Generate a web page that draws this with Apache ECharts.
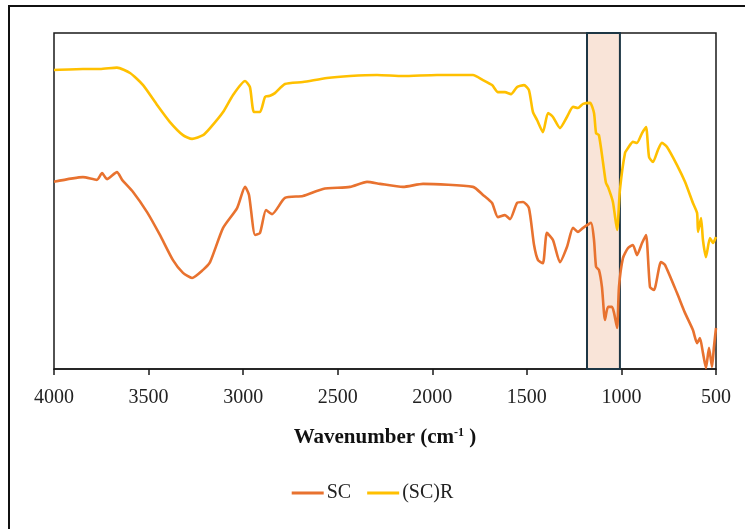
<!DOCTYPE html>
<html>
<head>
<meta charset="utf-8">
<script src="https://cdn.jsdelivr.net/npm/echarts@6/dist/echarts.min.js"></script>
<style>
  html, body { margin: 0; padding: 0; background: #fff; }
  #main { width: 745px; height: 529px; }
</style>
</head>
<body>
<div id="main"></div>
<script>
// spectra: [wavenumber, transmittance (a.u.)]
const scPoints = [
  [4000,55.7],[3847,57.1],[3773,56.3],[3746,58.3],[3720,56.5],[3667,58.6],[3640,56.3],[3582,52.7],
  [3508,46.7],[3440,39.9],[3371,32.4],[3318,28.6],[3270,27.1],[3212,29.5],[3175,31.8],[3106,42.0],
  [3032,47.9],[2990,54.2],[2969,51.8],[2937,39.9],[2911,40.5],[2879,47.3],[2847,46.1],[2779,50.9],
  [2684,51.5],[2578,53.6],[2435,54.2],[2345,55.7],[2276,55.1],[2155,54.2],[2049,55.1],[1785,54.2],
  [1732,51.8],[1684,49.4],[1653,45.2],[1616,45.8],[1589,44.6],[1552,49.4],[1520,49.7],[1489,47.9],
  [1462,36.9],[1441,32.4],[1415,31.5],[1394,40.5],[1362,38.4],[1325,31.8],[1288,36.3],[1256,42.0],
  [1230,40.8],[1203,42.0],[1161,43.5],[1145,38.4],[1134,30.4],[1119,29.5],[1103,24.4],[1087,14.6],
  [1071,18.5],[1050,18.5],[1039,16.7],[1023,12.2],[1013,24.4],[992,33.0],[965,36.0],[939,36.9],
  [918,33.9],[891,37.5],[870,39.9],[849,24.4],[828,23.5],[791,31.8],[770,31.0],[706,22.6],
  [664,16.7],[622,11.6],[600,7.7],[585,9.2],[569,4.8],[553,0.3],[537,6.3],[521,0.6],[511,6.5],[500,12.2]
];
const scrPoints = [
  [4000,89.0],[3847,89.3],[3757,89.3],[3667,89.7],[3598,88.1],[3529,84.5],[3455,78.6],[3387,73.5],
  [3318,69.6],[3270,68.5],[3212,69.6],[3175,71.7],[3106,76.5],[3054,81.5],[2990,85.7],[2964,83.9],
  [2943,76.5],[2911,76.5],[2884,81.0],[2858,81.3],[2832,82.1],[2779,84.8],[2684,85.4],[2557,86.6],
  [2435,87.2],[2292,87.5],[2155,87.2],[1975,87.5],[1785,87.5],[1732,86.0],[1684,84.5],[1653,82.4],
  [1616,82.4],[1584,81.8],[1552,83.9],[1515,84.5],[1489,83.0],[1468,76.5],[1446,74.1],[1415,70.5],
  [1388,76.2],[1362,75.0],[1325,71.7],[1288,75.0],[1256,78.0],[1230,77.7],[1203,78.9],[1166,79.2],
  [1145,76.2],[1134,70.2],[1119,69.6],[1097,61.3],[1082,55.4],[1071,54.2],[1045,49.7],[1023,41.4],
  [1008,53.3],[981,64.3],[965,65.8],[939,67.6],[918,67.3],[891,70.2],[870,72.0],[854,63.1],
  [833,61.6],[807,65.2],[786,67.3],[759,66.1],[706,60.7],[664,55.7],[622,49.4],[600,46.4],
  [595,40.8],[579,44.9],[569,38.4],[553,33.3],[532,39.0],[516,37.5],[500,39.3]
];
// highlighted band (cm-1)
const band = [1182, 1008];
const seriesNames = ['SC', '(SC)R'];

const colors = ['#E8722F', '#FFC000'];
const chart = echarts.init(document.getElementById('main'));

chart.setOption({
  animation: false,
  textStyle: { fontFamily: 'Liberation Serif' },
  grid: {
    left: 54, right: 29, top: 33, bottom: 160,
    show: true, borderColor: '#1a1a1a', borderWidth: 1.5
  },
  legend: {
    data: seriesNames,
    bottom: 21,
    left: 'center',
    icon: 'rect',
    itemWidth: 32,
    itemHeight: 3,
    itemGap: 16,
    textStyle: { fontSize: 20, color: '#222', fontFamily: 'Liberation Serif', padding: [0, 0, 0, -2] }
  },
  xAxis: {
    type: 'value',
    inverse: true,
    min: 500,
    max: 4000,
    interval: 500,
    splitLine: { show: false },
    axisLine: { lineStyle: { color: '#1a1a1a', width: 1.5 } },
    axisTick: { length: 6, lineStyle: { color: '#1a1a1a', width: 1.5 } },
    axisLabel: {
      fontSize: 20, color: '#222', margin: 19, fontFamily: 'Liberation Serif',
      formatter: function (v) { return String(v); }
    },
    name: '{b|Wavenumber (cm}{s|-1}{b| )}',
    nameLocation: 'middle',
    nameGap: 58,
    nameTextStyle: {
      rich: {
        b: { fontSize: 21, fontWeight: 'bold', color: '#111', fontFamily: 'Liberation Serif' },
        s: { fontSize: 12, fontWeight: 'bold', color: '#111', fontFamily: 'Liberation Serif', verticalAlign: 'top', padding: [0, 0, 8, 0] }
      }
    }
  },
  yAxis: {
    type: 'value',
    min: 0,
    max: 100,
    axisLine: { show: false },
    axisTick: { show: false },
    axisLabel: { show: false },
    splitLine: { show: false }
  },
  graphic: [
    {
      // outer frame of the figure
      type: 'polyline',
      shape: { points: [[9, 529], [9, 6], [745, 6]] },
      style: { stroke: '#111', lineWidth: 2, fill: null }
    }
  ],
  series: [
    {
      name: 'band',
      type: 'line',
      data: [],
      z: 1,
      markArea: {
        silent: true,
        itemStyle: { color: '#F9E4D8', borderColor: '#1d3644', borderWidth: 2 },
        data: [[{ xAxis: band[0] }, { xAxis: band[1] }]]
      }
    },
    {
      name: seriesNames[0],
      type: 'line',
      showSymbol: false,
      smooth: 0.2,
      z: 3,
      color: colors[0],
      lineStyle: { width: 2.6, color: colors[0] },
      data: scPoints
    },
    {
      name: seriesNames[1],
      type: 'line',
      showSymbol: false,
      smooth: 0.2,
      z: 3,
      color: colors[1],
      lineStyle: { width: 2.6, color: colors[1] },
      data: scrPoints
    }
  ]
});
</script>
</body>
</html>
